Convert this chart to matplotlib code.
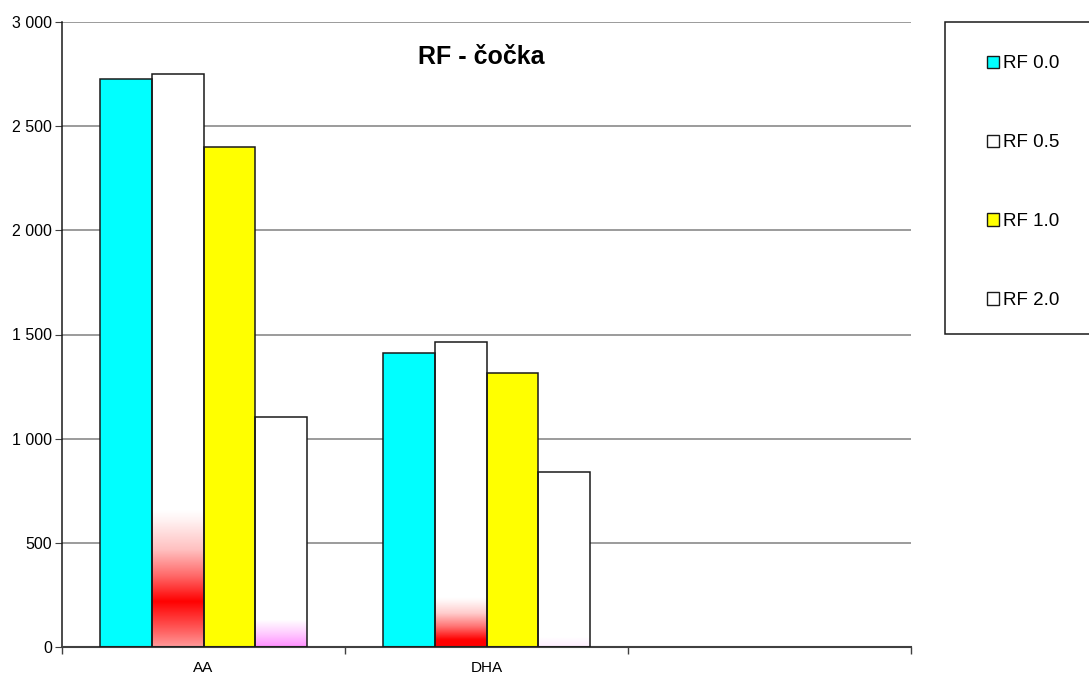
import numpy as np
import matplotlib
matplotlib.use("Agg")
import matplotlib.pyplot as plt
from matplotlib.patches import Rectangle, Patch
from matplotlib.ticker import FuncFormatter, MultipleLocator, FixedLocator

plt.rcParams["font.family"] = ["Liberation Sans", "DejaVu Sans"]

categories = ["AA", "DHA", ""]
series = ["RF 0.0", "RF 0.5", "RF 1.0", "RF 2.0"]
rf_00 = [2725, 1410]
rf_05 = [2750, 1465]
rf_10 = [2400, 1315]
rf_20 = [1105, 840]
values = [rf_00, rf_05, rf_10, rf_20]
colors = ["#00FFFF", "#FFFFFF", "#FFFF00", "#FFFFFF"]

# colour washes inside some bars: (category index, series index) -> (rgb, [(y, alpha), ...])
washes = {
    (0, 1): ((1.0, 0.0, 0.0), [(0, 0.4), (66, 0.6), (217, 1.0), (338, 0.6), (466, 0.25), (610, 0.05), (660, 0.0)]),
    (0, 3): ((1.0, 0.2, 1.0), [(0, 0.55), (66, 0.25), (130, 0.0)]),
    (1, 1): ((1.0, 0.0, 0.0), [(0, 1.0), (34, 1.0), (98, 0.55), (162, 0.2), (226, 0.02), (240, 0.0)]),
    (1, 3): ((1.0, 0.4, 1.0), [(0, 0.12), (48, 0.0)]),
}

W, H = 1089, 675
fig = plt.figure(figsize=(W / 100, H / 100), dpi=100)
ax = fig.add_axes([62 / W, 1 - 647 / H, (911 - 62) / W, (647 - 22) / H])

width = 0.182
offsets = (np.arange(len(series)) - 1.5) * width
x = np.arange(len(values[0]))

for si, (name, vals, col) in enumerate(zip(series, values, colors)):
    bars = ax.bar(x + offsets[si], vals, width, color=col, edgecolor="none",
                  label=name, zorder=2)
    for ci, b in enumerate(bars):
        if (ci, si) in washes:
            rgb, prof = washes[(ci, si)]
            h = b.get_height()
            ys = np.linspace(0, h, 600)
            a = np.interp(ys, [p[0] for p in prof], [p[1] for p in prof])
            img = np.zeros((len(ys), 1, 4))
            img[:, 0, :3] = rgb
            img[:, 0, 3] = a
            ax.imshow(img, extent=(b.get_x(), b.get_x() + b.get_width(), 0, h),
                      origin="lower", aspect="auto", interpolation="bilinear", zorder=2.5)
    ax.bar(x + offsets[si], vals, width, facecolor="none", edgecolor="#1a1a1a",
           linewidth=1.1, zorder=3)

ax.set_xlim(-0.5, len(categories) - 0.5)
ax.set_ylim(0, 3000)

ax.yaxis.set_major_locator(MultipleLocator(500))
ax.yaxis.set_major_formatter(FuncFormatter(lambda v, p: f"{int(v):,}".replace(",", " ")))
ax.grid(axis="y", color="#808080", linewidth=1.1, zorder=0)
ax.set_axisbelow(True)

ax.set_xticks(np.arange(len(categories)))
ax.set_xticklabels(categories)
ax.xaxis.set_minor_locator(FixedLocator(np.arange(len(categories) + 1) - 0.5))
ax.tick_params(axis="x", which="major", length=0, labelsize=11, pad=10)
ax.tick_params(axis="x", which="minor", length=5, color="#404040", width=1)
ax.tick_params(axis="y", length=5, labelsize=11.5, color="#404040", pad=2.2)

for s in ("top", "right"):
    ax.spines[s].set_visible(False)
ax.spines["left"].set_color("#1a1a1a")
ax.spines["bottom"].set_color("#404040")
ax.spines["left"].set_linewidth(1.1)
ax.spines["bottom"].set_linewidth(1.5)

ax.text(0.494, 0.944, "RF - čočka", transform=ax.transAxes, ha="center", va="center",
        fontsize=18, fontweight="bold")

# legend box running off the right edge
fig.patches.append(Rectangle((945 / W, 1 - 334 / H), 0.2, (334 - 22) / H,
                             transform=fig.transFigure, facecolor="white",
                             edgecolor="#1a1a1a", linewidth=1.1, zorder=1))
handles = [Patch(facecolor=c, edgecolor="#1a1a1a", linewidth=1.0) for c in colors]
leg = fig.legend(handles, series, loc="upper left",
                 bbox_to_anchor=(987 / W, 1 - 55.5 / H), frameon=False,
                 fontsize=13.5, handlelength=0.65, handleheight=0.65,
                 handletextpad=0.18, labelspacing=3.3, borderpad=0, borderaxespad=0)
leg.set_zorder(5)

fig.savefig("out.png", dpi=100)
